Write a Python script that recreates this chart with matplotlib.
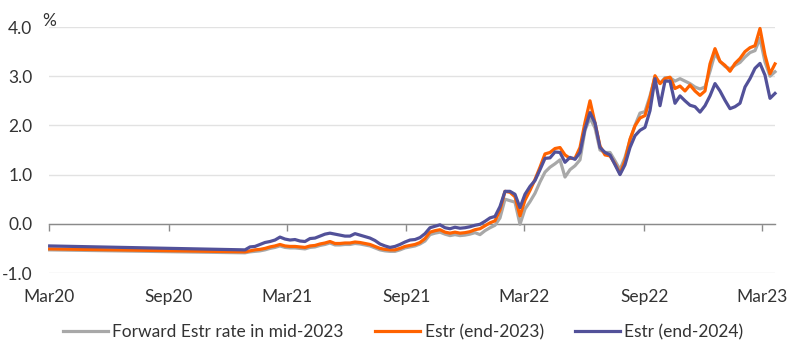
import matplotlib
matplotlib.use("Agg")
import matplotlib.pyplot as plt
import matplotlib.dates as mdates
import matplotlib.transforms as mtransforms
import pandas as pd

# ---- data ----
start_date = "2020-03-02"
grid_start = "2020-12-27"
grid_end = "2023-03-21"

estr_2024 = [-0.45,
    -0.53, -0.47, -0.46, -0.42, -0.38, -0.36, -0.33, -0.27, -0.31, -0.33,
    -0.32, -0.35, -0.36, -0.30, -0.29, -0.25, -0.21, -0.19, -0.21, -0.23,
    -0.25, -0.25, -0.20, -0.23, -0.26, -0.29, -0.34, -0.41, -0.45, -0.48,
    -0.46, -0.42, -0.37, -0.33, -0.32, -0.28, -0.20, -0.08, -0.05, -0.02,
    -0.08, -0.10, -0.07, -0.09, -0.08, -0.06, -0.03, -0.01, 0.05, 0.12,
    0.15, 0.35, 0.66, 0.66, 0.60, 0.33, 0.60, 0.76, 0.88, 1.10,
    1.33, 1.34, 1.46, 1.45, 1.25, 1.35, 1.31, 1.45, 1.93, 2.26,
    2.05, 1.55, 1.45, 1.40, 1.20, 1.00, 1.20, 1.55, 1.79, 1.90,
    1.96, 2.30, 2.95, 2.40, 2.90, 2.90, 2.45, 2.60, 2.50, 2.41,
    2.38, 2.27, 2.40, 2.60, 2.85, 2.70, 2.51, 2.34, 2.38, 2.45,
    2.78, 2.95, 3.16, 3.26, 3.02, 2.55, 2.65]

estr_2023 = [-0.51,
    -0.57, -0.55, -0.53, -0.52, -0.50, -0.47, -0.45, -0.42, -0.45, -0.46,
    -0.46, -0.47, -0.48, -0.45, -0.44, -0.41, -0.39, -0.36, -0.40, -0.40,
    -0.39, -0.39, -0.37, -0.38, -0.40, -0.42, -0.46, -0.50, -0.52, -0.53,
    -0.53, -0.50, -0.46, -0.44, -0.42, -0.38, -0.30, -0.17, -0.14, -0.12,
    -0.17, -0.19, -0.17, -0.19, -0.18, -0.16, -0.12, -0.10, -0.04, 0.02,
    0.06, 0.28, 0.66, 0.64, 0.55, 0.16, 0.48, 0.68, 0.90, 1.15,
    1.42, 1.45, 1.53, 1.55, 1.40, 1.33, 1.33, 1.55, 2.06, 2.50,
    2.05, 1.58, 1.40, 1.38, 1.22, 1.02, 1.28, 1.72, 1.99, 2.15,
    2.20, 2.55, 3.01, 2.85, 2.95, 2.98, 2.75, 2.80, 2.70, 2.82,
    2.70, 2.61, 2.70, 3.25, 3.56, 3.30, 3.22, 3.10, 3.26, 3.36,
    3.50, 3.58, 3.62, 3.97, 3.43, 3.05, 3.25]

fwd_mid2023 = [-0.53,
    -0.59, -0.57, -0.56, -0.55, -0.53, -0.50, -0.48, -0.45, -0.48, -0.49,
    -0.49, -0.50, -0.51, -0.48, -0.47, -0.44, -0.42, -0.39, -0.43, -0.43,
    -0.42, -0.42, -0.40, -0.41, -0.43, -0.45, -0.49, -0.53, -0.55, -0.56,
    -0.56, -0.53, -0.49, -0.47, -0.45, -0.41, -0.35, -0.22, -0.19, -0.17,
    -0.21, -0.24, -0.22, -0.24, -0.23, -0.21, -0.18, -0.22, -0.14, -0.08,
    -0.03, 0.12, 0.50, 0.47, 0.44, -0.01, 0.30, 0.45, 0.62, 0.85,
    1.05, 1.15, 1.22, 1.30, 0.95, 1.10, 1.18, 1.30, 1.90, 2.15,
    1.95, 1.50, 1.45, 1.45, 1.28, 1.10, 1.35, 1.70, 2.00, 2.25,
    2.28, 2.60, 2.98, 2.85, 2.97, 2.97, 2.90, 2.95, 2.90, 2.85,
    2.78, 2.74, 2.78, 3.10, 3.46, 3.30, 3.20, 3.15, 3.22, 3.28,
    3.39, 3.48, 3.52, 3.77, 3.29, 3.00, 3.09]

series_labels = ["Forward Estr rate in mid-2023", "Estr (end-2023)", "Estr (end-2024)"]
y_ticks = [-1.0, 0.0, 1.0, 2.0, 3.0, 4.0]

# ---- figure ----
plt.rcParams["font.family"] = ["Lato", "DejaVu Sans"]
txt = "#333333"
fs = 12.5

dates = [pd.Timestamp(start_date)] + list(pd.date_range(grid_start, grid_end, periods=len(estr_2024) - 1))

fig = plt.figure(figsize=(8.0, 3.58), dpi=100)
ax = fig.add_axes([49 / 800, 1 - 273 / 358, (775 - 49) / 800, (273 - 27) / 358])

colors = ["#A8A8A8", "#FF6200", "#525199"]
for vals, lab, c in zip([fwd_mid2023, estr_2023, estr_2024], series_labels, colors):
    ax.plot(dates, vals, color=c, lw=2.3, label=lab, clip_on=False, solid_joinstyle="round")

ax.set_ylim(-1.0, 4.0)
ax.set_xlim(pd.Timestamp("2020-03-01"), pd.Timestamp(grid_end))
ax.set_yticks(y_ticks)
ax.set_yticklabels([f"{v:.1f}" for v in y_ticks])
ax.yaxis.grid(True, color="#e2e2e2", lw=1)
ax.set_axisbelow(True)

for s in ["top", "right", "left"]:
    ax.spines[s].set_visible(False)
ax.spines["bottom"].set_position(("data", 0))
ax.spines["bottom"].set_color("#8a8a8a")
ax.spines["bottom"].set_linewidth(1.0)
ax.spines["bottom"].set_zorder(1)

ax.xaxis.set_major_locator(mdates.MonthLocator(bymonth=[3, 9], bymonthday=1))
ax.xaxis.set_major_formatter(mdates.DateFormatter("%b%y"))
ax.tick_params(axis="x", length=5, width=1, color="#8a8a8a", pad=42, labelsize=fs, labelcolor=txt)
ax.tick_params(axis="y", length=0, pad=12, labelsize=fs, labelcolor=txt)

trans = mtransforms.blended_transform_factory(ax.transAxes, ax.transData)
ax.text(0.0, 4.12, "%", transform=trans, ha="center", va="center", fontsize=fs, color=txt)

leg = fig.legend(loc="center", bbox_to_anchor=(0.504, 1 - 332 / 358), ncol=3, frameon=False,
                 fontsize=fs, handlelength=2.6, handletextpad=0.25, columnspacing=1.8)
for t in leg.get_texts():
    t.set_color(txt)

fig.savefig("out.png", dpi=100)
